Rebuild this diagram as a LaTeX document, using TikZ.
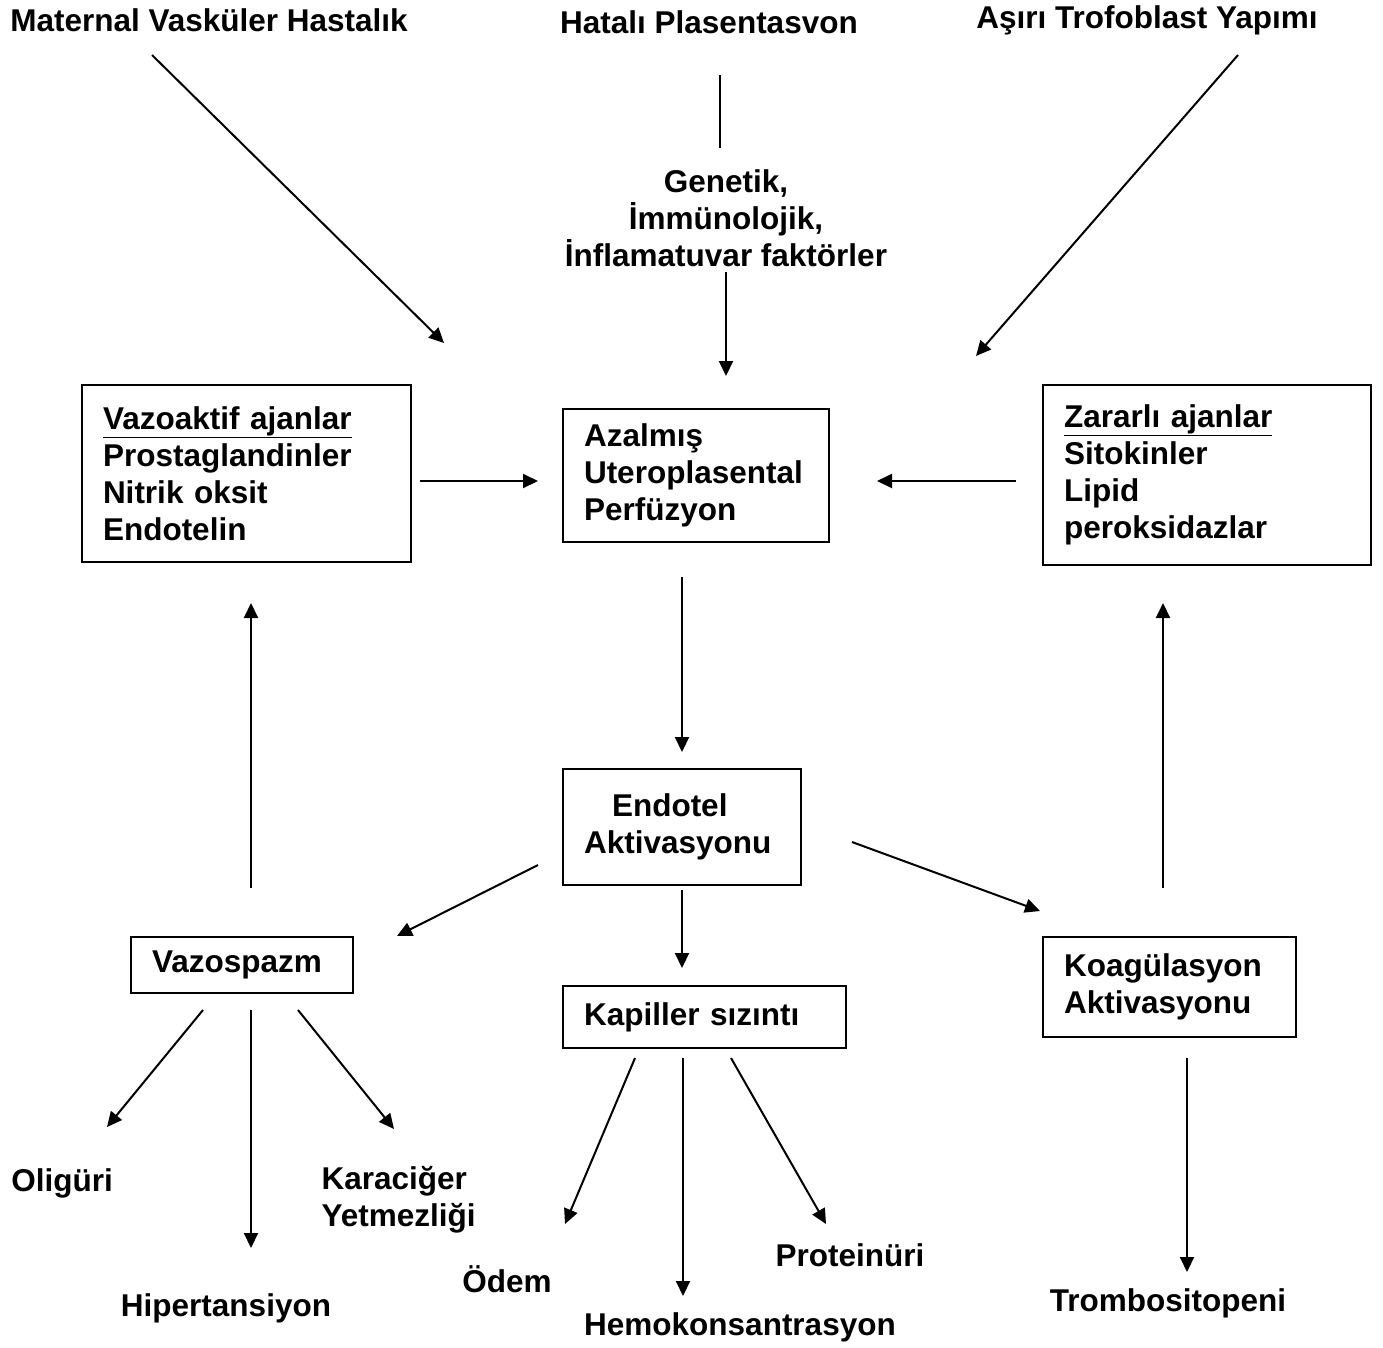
\documentclass[tikz,border=0pt]{standalone}
\usepackage{fontspec}
\setmainfont{Liberation Sans}
\usepackage{tikz}
\usetikzlibrary{arrows.meta,positioning}

\tikzset{
  every node/.style={font=\bfseries\fontsize{31.5pt}{37pt}\selectfont},
  box/.style={draw,line width=2pt,inner xsep=21pt,inner ysep=0pt,align=left},
  arr/.style={line width=2pt,-{Triangle[length=15pt,width=14pt]}},
  link/.style={line width=2pt}
}

\begin{document}
\begin{tikzpicture}[x=1pt,y=-1pt]
  \useasboundingbox (0,0) rectangle (1383,1347);

  % causes
  \node (mat) at (209,20) {Maternal Vasküler Hastalık};
  \node (hata) at (709,22) {Hatalı Plasentasvon};
  \node (asiri) at (1147,20) {Aşırı Trofoblast Yapımı};
  \node[align=center] (gen) at (726,218) {Genetik,\\İmmünolojik,\\İnflamatuvar faktörler};

  % boxes
  \node[box,minimum width=329pt,minimum height=177pt,text width=287pt] (vazo) at (246.5,473.5)
    {\underline{Vazoaktif ajanlar}\\Prostaglandinler\\Nitrik oksit\\Endotelin};
  \node[box,minimum width=266pt,minimum height=133pt,text width=224pt] (azal) at (696,475.5)
    {Azalmış\\Uteroplasental\\Perfüzyon};
  \node[box,minimum width=328pt,minimum height=180pt,text width=286pt] (zarar) at (1207,475)
    {\underline{Zararlı ajanlar}\\Sitokinler\\Lipid\\peroksidazlar};
  \node[box,minimum width=238pt,minimum height=116pt,text width=196pt] (endo) at (682,827)
    {\hspace*{28pt}Endotel\\Aktivasyonu};
  \node[box,minimum width=222pt,minimum height=56pt,text width=180pt] (vazsp) at (242,965)
    {Vazospazm};
  \node[box,minimum width=283pt,minimum height=62pt,text width=241pt] (kap) at (704.5,1017)
    {Kapiller sızıntı};
  \node[box,minimum width=253pt,minimum height=100pt,text width=211pt] (koag) at (1169.5,987)
    {Koagülasyon\\Aktivasyonu};

  % outcomes
  \node (oli) at (62,1183) {Oligüri};
  \node[anchor=west,align=left] (kara) at (318,1200) {Karaciğer\\Yetmezliği};
  \node (hip) at (226,1308) {Hipertansiyon};
  \node (odem) at (507,1279) {Ödem};
  \node (hemo) at (740,1327) {Hemokonsantrasyon};
  \node (prot) at (850,1255) {Proteinüri};
  \node (trom) at (1168,1303) {Trombositopeni};

  % top arrows
  \draw[arr] ([xshift=-57pt,yshift=-35pt]mat.center) -- ([xshift=32pt,yshift=41pt]vazo.north east);
  \draw[arr] ([xshift=91pt,yshift=-35pt]asiri.center) -- ([xshift=-66pt,yshift=28pt]zarar.north west);
  \draw[link] ([xshift=11pt,yshift=-53pt]hata.center) -- ([xshift=-6pt,yshift=70pt]gen.center);
  \draw[arr] ([yshift=-54pt]gen.center) -- ([xshift=30pt,yshift=32pt]azal.north);

  % into and out of the centre
  \draw[arr,shorten <=8pt,shorten >=24pt] ([yshift=-7.5pt]vazo.east) -- ([yshift=-5.5pt]azal.west);
  \draw[arr,shorten <=26pt,shorten >=47pt] ([yshift=-6pt]zarar.west) -- ([yshift=-5.5pt]azal.east);
  \draw[arr,shorten <=34pt,shorten >=16pt] (azal.south -| endo.north) -- (endo.north);
  \draw[arr] ([xshift=-24pt,yshift=-38pt]endo.west) -- ([xshift=155pt]vazsp.north);
  \draw[arr] ([xshift=50pt,yshift=-15pt]endo.east) -- ([xshift=-2pt,yshift=25pt]koag.north west);
  \draw[arr,shorten <=4pt,shorten >=17pt] (endo.south) -- (endo.south |- kap.north);

  % feedback
  \draw[arr,shorten <=48pt,shorten >=40pt] ([xshift=9pt]vazsp.north) -- ([xshift=4.5pt]vazo.south);
  \draw[arr,shorten <=48pt,shorten >=37pt] ([xshift=-6.5pt]koag.north) -- ([xshift=-6.5pt]koag.north |- zarar.south);

  % effects
  \draw[arr] ([xshift=-39pt,yshift=-16pt]vazsp.south) -- ([xshift=45pt,yshift=56pt]oli.center);
  \draw[arr] ([xshift=9pt,yshift=-16pt]vazsp.south) -- ([xshift=25pt,yshift=60pt]hip.center);
  \draw[arr] ([xshift=56pt,yshift=-16pt]vazsp.south) -- ([xshift=76pt,yshift=71pt]kara.west);
  \draw[arr] ([xshift=-69.5pt,yshift=-9pt]kap.south) -- ([xshift=58pt,yshift=55pt]odem.center);
  \draw[arr] ([xshift=-21.5pt,yshift=-9pt]kap.south) -- ([xshift=-57pt,yshift=31pt]hemo.center);
  \draw[arr] ([xshift=26.5pt,yshift=-9pt]kap.south) -- ([xshift=-24pt,yshift=31pt]prot.center);
  \draw[arr] ([xshift=17.5pt,yshift=-20pt]koag.south) -- ([xshift=19pt,yshift=31pt]trom.center);
\end{tikzpicture}
\end{document}
